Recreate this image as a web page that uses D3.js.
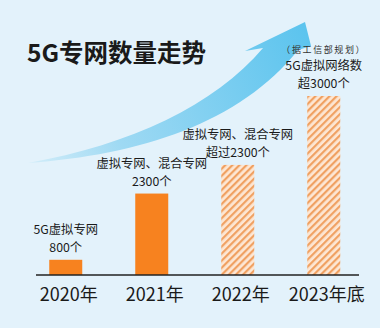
<!DOCTYPE html>
<html><head><meta charset="utf-8">
<script src="https://cdn.jsdelivr.net/npm/d3@7"></script>
<style>
html,body{margin:0;padding:0;background:#e3f2fb;}
svg{display:block;font-family:"Noto Sans CJK SC","Noto Sans",sans-serif;}
</style></head>
<body><svg id="c" width="380" height="328"></svg>
<script>
// ---- data ----
const title = "5G专网数量走势";
const years = ["2020年", "2021年", "2022年", "2023年底"];
const counts = [800, 2300, 2300, 3000];           // 个
const planned = [false, false, true, true];       // hatched = planned/estimated
// bar lengths as drawn in the picture (relative index, 2023 = 100)
const barLevel = [8.5, 45.5, 61.5, 100];
const noteLines = [
  ["5G虚拟专网", "800个"],
  ["虚拟专网、混合专网", "2300个"],
  ["虚拟专网、混合专网", "超过2300个"],
  ["5G虚拟网络数", "超3000个"]
];
const source = "（据工信部规划）";

// ---- layout ----
const svg = d3.select("#c");
const W = 380, H = 328;
svg.append("rect").attr("width", W).attr("height", H).attr("fill", "#e3f2fb");

const x = d3.scalePoint().domain(years).range([22.75, 366.75]).padding(0.5);
const y = d3.scaleLinear().domain([0, 100]).range([275, 96]);
const bw = 33;

const defs = svg.append("defs");
const grad = defs.append("linearGradient").attr("id", "ag")
  .attr("gradientUnits", "userSpaceOnUse")
  .attr("x1", 28).attr("y1", 160).attr("x2", 305).attr("y2", 30);
grad.append("stop").attr("offset", 0).attr("stop-color", "#d2edf9");
grad.append("stop").attr("offset", 0.3).attr("stop-color", "#9ed9f3");
grad.append("stop").attr("offset", 1).attr("stop-color", "#5cc4ee");

const pat = defs.append("pattern").attr("id", "hatch")
  .attr("patternUnits", "userSpaceOnUse").attr("width", 5).attr("height", 5)
  .attr("patternTransform", "rotate(45)");
pat.append("rect").attr("width", 5).attr("height", 5).attr("fill", "#fde7d4");
pat.append("rect").attr("width", 2.2).attr("height", 5).attr("fill", "#f0a162");

// arrow
const arrow = d3.path();
arrow.moveTo(28, 163);
arrow.bezierCurveTo(130, 145, 215, 105, 263, 48);
arrow.lineTo(245, 51);
arrow.lineTo(305, 22);
arrow.lineTo(311, 46);
arrow.lineTo(298, 50);
arrow.bezierCurveTo(240, 123, 140, 155, 28, 163);
arrow.closePath();
svg.append("path").attr("d", arrow.toString()).attr("fill", "url(#ag)");

// title
svg.append("text").attr("x", 27).attr("y", 62)
  .attr("font-size", 24.5).attr("font-weight", 700)
  .attr("fill", "#1a1a1a").text(title);

// bars
svg.selectAll("rect.bar").data(years).join("rect").attr("class", "bar")
  .attr("x", d => x(d) - bw / 2)
  .attr("y", (d, i) => y(barLevel[i]))
  .attr("width", bw)
  .attr("height", (d, i) => y(0) - y(barLevel[i]))
  .attr("fill", (d, i) => planned[i] ? "url(#hatch)" : "#f7821f");

// baseline
svg.append("line").attr("x1", 36).attr("x2", 359).attr("y1", y(0)).attr("y2", y(0))
  .attr("stroke", "#222").attr("stroke-width", 1.5);

// x labels
svg.selectAll("text.xl").data(years).join("text").attr("class", "xl")
  .attr("x", d => x(d) + 3).attr("y", 301)
  .attr("text-anchor", "middle").attr("font-size", 18).attr("fill", "#1a1a1a")
  .text(d => d);

// notes
const fs = 12.3, lh = 17.9;
years.forEach((yr, i) => {
  const top = y(barLevel[i]);
  const lines = noteLines[i];
  const n = lines.length;
  lines.forEach((s, k) => {
    svg.append("text").attr("x", x(yr))
      .attr("y", top - 8 - (n - 1 - k) * lh)
      .attr("text-anchor", "middle").attr("font-size", fs).attr("fill", "#1a1a1a")
      .text(s);
  });
  if (i === 3) {
    svg.append("text").attr("x", x(yr))
      .attr("y", top - 8 - (n - 1) * lh - 17.2)
      .attr("text-anchor", "middle").attr("font-size", 9).attr("letter-spacing", 1.6)
      .attr("fill", "#333").text(source);
  }
});
</script></body></html>
